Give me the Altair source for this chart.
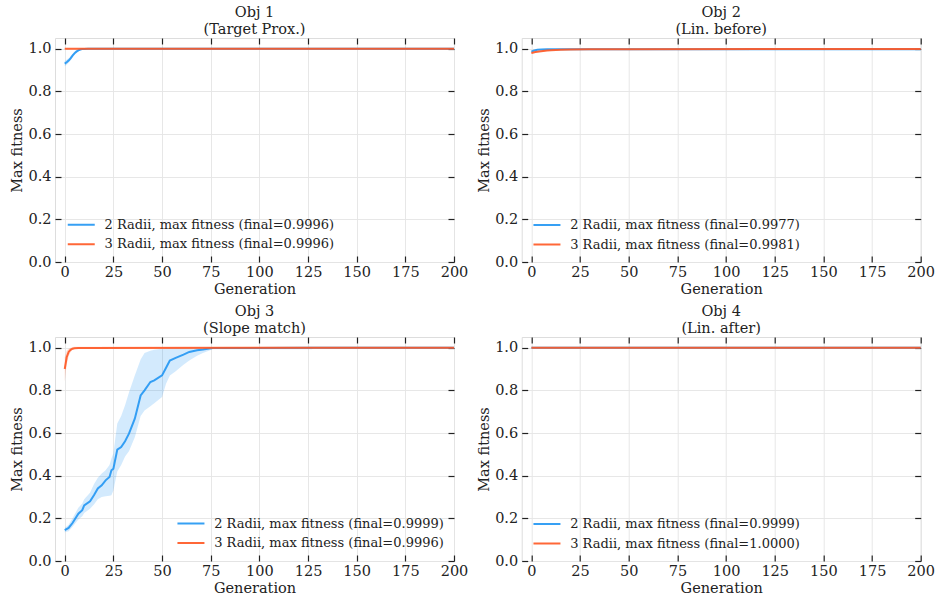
import altair as alt
import pandas as pd

BLUE = "#2196f3"
ORANGE = "#ff5722"
INK = "#222222"
FONT = "DejaVu Serif"

TITLES = [["Obj 1", "(Target Prox.)"], ["Obj 2", "(Lin. before)"],
          ["Obj 3", "(Slope match)"], ["Obj 4", "(Lin. after)"]]
FINAL_2 = ["0.9996", "0.9977", "0.9999", "0.9999"]
FINAL_3 = ["0.9996", "0.9981", "0.9996", "1.0000"]

X_TICKS = [0, 25, 50, 75, 100, 125, 150, 175, 200]
Y_TICKS = [0.0, 0.2, 0.4, 0.6, 0.8, 1.0]

# ---- Obj 1 ----
P1_B_GEN = [0, 1, 2, 3, 4, 5, 6, 7, 8, 9, 10, 12, 15, 200]
P1_B_MEAN = [0.930, 0.936, 0.944, 0.955, 0.967, 0.978, 0.986, 0.992, 0.996, 0.998, 0.9990, 0.9994, 0.9996, 0.9996]
P1_B_LO = [0.918, 0.925, 0.934, 0.946, 0.959, 0.971, 0.980, 0.988, 0.993, 0.996, 0.998, 0.999, 0.9994, 0.9994]
P1_B_HI = [0.942, 0.948, 0.955, 0.964, 0.975, 0.985, 0.992, 0.996, 0.998, 0.9995, 0.9998, 0.9998, 0.9998, 0.9998]
P1_O_GEN = [0, 5, 200]
P1_O_MEAN = [0.9992, 0.9996, 0.9996]
P1_O_LO = [0.9985, 0.9992, 0.9992]
P1_O_HI = [0.9998, 0.9999, 0.9999]

# ---- Obj 2 ----
P2_B_GEN = [0, 1, 2, 3, 5, 8, 12, 20, 40, 200]
P2_B_MEAN = [0.986, 0.990, 0.993, 0.995, 0.996, 0.9968, 0.9972, 0.9975, 0.9977, 0.9977]
P2_B_LO = [0.982, 0.987, 0.991, 0.993, 0.995, 0.9960, 0.9966, 0.9970, 0.9972, 0.9972]
P2_B_HI = [0.990, 0.993, 0.995, 0.997, 0.998, 0.9980, 0.9980, 0.9982, 0.9982, 0.9982]
P2_O_GEN = [0, 2, 4, 6, 8, 10, 15, 20, 30, 50, 200]
P2_O_MEAN = [0.980, 0.984, 0.987, 0.989, 0.991, 0.993, 0.995, 0.9965, 0.9972, 0.9978, 0.9981]
P2_O_LO = [0.975, 0.980, 0.984, 0.986, 0.989, 0.991, 0.994, 0.9955, 0.9965, 0.9972, 0.9976]
P2_O_HI = [0.985, 0.988, 0.990, 0.992, 0.993, 0.995, 0.996, 0.9975, 0.9980, 0.9984, 0.9986]

# ---- Obj 3 ----
P3_B_GEN = [0, 2, 4, 7, 9, 10, 13, 15, 17, 19, 21, 23, 24, 25, 27, 29, 31, 33, 36, 39,
            41, 44, 46, 50, 52, 54, 57, 61, 64, 68, 71, 76, 127, 128, 200]
P3_B_MEAN = [0.145, 0.155, 0.178, 0.222, 0.238, 0.261, 0.280, 0.308, 0.340, 0.355,
             0.378, 0.394, 0.425, 0.433, 0.522, 0.534, 0.561, 0.597, 0.667, 0.776,
             0.800, 0.839, 0.847, 0.870, 0.905, 0.940, 0.952, 0.967, 0.980, 0.988,
             0.991, 0.998, 0.9999, 0.9999, 0.9999]
P3_B_LO = [0.135, 0.140, 0.160, 0.195, 0.210, 0.225, 0.245, 0.265, 0.290, 0.300,
           0.303, 0.306, 0.308, 0.330, 0.420, 0.450, 0.490, 0.515, 0.580, 0.680,
           0.705, 0.725, 0.740, 0.769, 0.830, 0.870, 0.890, 0.920, 0.940, 0.962,
           0.975, 0.992, 0.993, 0.9998, 0.9998]
P3_B_HI = [0.155, 0.170, 0.200, 0.250, 0.270, 0.290, 0.320, 0.360, 0.390, 0.410,
           0.425, 0.450, 0.480, 0.505, 0.644, 0.680, 0.730, 0.790, 0.870, 0.945,
           0.975, 0.985, 0.990, 0.995, 0.997, 0.998, 0.998, 0.999, 0.999, 0.9995,
           0.9998, 1.0, 1.0, 1.0, 1.0]
P3_O_GEN = [0, 1, 2, 3, 4, 5, 7, 10, 200]
P3_O_MEAN = [0.900, 0.955, 0.980, 0.990, 0.995, 0.997, 0.9985, 0.9990, 0.9996]
P3_O_LO = [0.840, 0.920, 0.960, 0.980, 0.990, 0.994, 0.997, 0.998, 0.9990]
P3_O_HI = [0.955, 0.985, 0.995, 1.0, 1.003, 1.004, 1.004, 1.004, 1.003]

# ---- Obj 4 ----
P4_B_GEN = [0, 200]
P4_B_MEAN = [0.9999, 0.9999]
P4_B_LO = [0.9997, 0.9997]
P4_B_HI = [1.0, 1.0]
P4_O_GEN = [0, 200]
P4_O_MEAN = [1.0, 1.0]
P4_O_LO = [1.0, 1.0]
P4_O_HI = [1.0, 1.0]

PANELS = [
    (P1_B_GEN, P1_B_MEAN, P1_B_LO, P1_B_HI, P1_O_GEN, P1_O_MEAN, P1_O_LO, P1_O_HI),
    (P2_B_GEN, P2_B_MEAN, P2_B_LO, P2_B_HI, P2_O_GEN, P2_O_MEAN, P2_O_LO, P2_O_HI),
    (P3_B_GEN, P3_B_MEAN, P3_B_LO, P3_B_HI, P3_O_GEN, P3_O_MEAN, P3_O_LO, P3_O_HI),
    (P4_B_GEN, P4_B_MEAN, P4_B_LO, P4_B_HI, P4_O_GEN, P4_O_MEAN, P4_O_LO, P4_O_HI),
]
LEGEND_POS = [(18.25, 178.75), (17.25, 179), (127.95, 178.5), (17.25, 179)]

W, H = 399, 224
TICK = 6
FS = 14.5

xscale = alt.Scale(domain=[-5, 200], nice=False, zero=False)
yscale = alt.Scale(domain=[0, 1.05], nice=False, zero=False)

common_axis = dict(
    offset=-TICK, tickSize=TICK, tickWidth=1.2, tickColor=INK, domain=False,
    labelFont=FONT, labelFontSize=FS, labelColor=INK, labelFlush=False, labelOverlap=False,
    titleFont=FONT, titleFontSize=FS, titleFontWeight="normal", titleColor=INK,
    gridColor="#e4e4e4", gridWidth=0.9,
)

ax_bottom = alt.Axis(orient="bottom", values=X_TICKS, grid=True, labelPadding=3,
                     title="Generation", titlePadding=4, **common_axis)
ax_left = alt.Axis(orient="left", values=Y_TICKS, format=".1f", grid=True, labelPadding=4,
                   title="Max fitness", titlePadding=3, **common_axis)
ax_top = alt.Axis(orient="top", values=X_TICKS, grid=False, labels=False, title=None, **common_axis)
ax_right = alt.Axis(orient="right", values=Y_TICKS, grid=False, labels=False, title=None, **common_axis)


def make_panel(i):
    bg, bm, bl, bh, og, om, ol, oh = PANELS[i]
    lab2 = f"2 Radii, max fitness (final={FINAL_2[i]})"
    lab3 = f"3 Radii, max fitness (final={FINAL_3[i]})"
    rows = []
    for g, m, lo, hi in zip(bg, bm, bl, bh):
        rows.append({"gen": g, "val": m, "lo": lo, "hi": hi, "series": lab2})
    for g, m, lo, hi in zip(og, om, ol, oh):
        rows.append({"gen": g, "val": m, "lo": lo, "hi": hi, "series": lab3})
    df = pd.DataFrame(rows)
    cscale = alt.Scale(domain=[lab2, lab3], range=[BLUE, ORANGE])
    base = alt.Chart(df)

    band2 = base.transform_filter(alt.datum.series == lab2).mark_area(
        opacity=0.2, color=BLUE).encode(
        x=alt.X("gen:Q", scale=xscale, axis=ax_bottom),
        y=alt.Y("lo:Q", scale=yscale, axis=ax_left),
        y2="hi:Q",
    )
    band3 = base.transform_filter(alt.datum.series == lab3).mark_area(
        opacity=0.2, color=ORANGE).encode(
        x=alt.X("gen:Q", scale=xscale, axis=None),
        y=alt.Y("lo:Q", scale=yscale, axis=None),
        y2="hi:Q",
    )
    lx, ly = LEGEND_POS[i]
    line = base.mark_line(strokeWidth=2, opacity=0.9).encode(
        x=alt.X("gen:Q", scale=xscale, axis=ax_top),
        y=alt.Y("val:Q", scale=yscale, axis=ax_right),
        color=alt.Color("series:N", scale=cscale, legend=alt.Legend(
            title=None, orient="none", legendX=lx, legendY=ly,
            symbolType="M-2,0H2", symbolSize=182.25, symbolStrokeWidth=2,
            labelFont=FONT, labelFontSize=13, labelColor=INK, labelOffset=15.25,
            labelLimit=500, rowPadding=4.5, padding=0,
        )),
        order=alt.Order("gen:Q"),
    )
    return alt.layer(band2, band3, line).properties(
        width=W, height=H,
        title=alt.TitleParams(text=TITLES[i], font=FONT, fontSize=FS, fontWeight="normal",
                              color=INK, offset=0, lineHeight=17, anchor="middle"),
    )


chart = alt.concat(
    *[make_panel(i) for i in range(4)], columns=2, bounds="flush",
    spacing={"row": 75, "column": 67.7}
).resolve_scale(color="independent").properties(
    padding={"left": 9, "top": 4, "right": 0, "bottom": 0}
).configure_view(stroke=INK, strokeWidth=1.5).configure(background="white")

chart.save("out.html", embed_options={"renderer": "svg", "actions": False})
